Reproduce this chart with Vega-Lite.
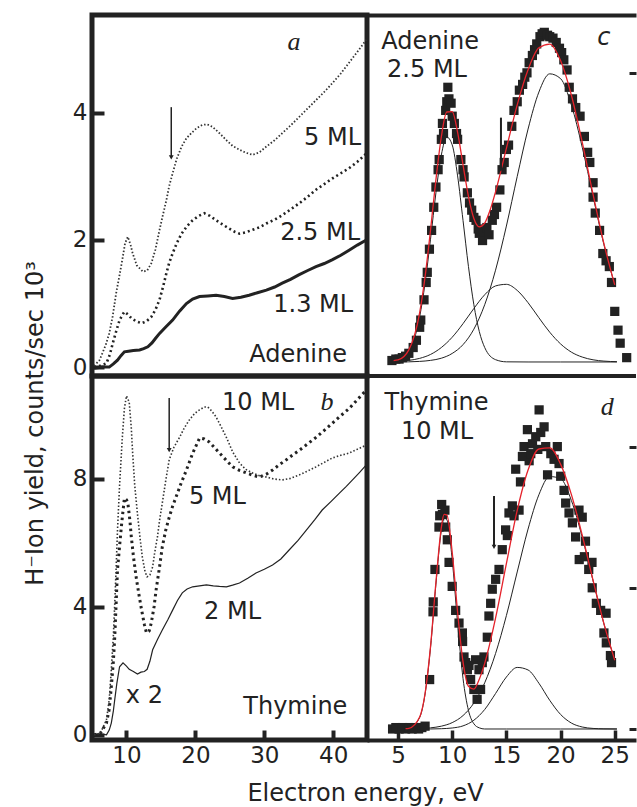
{
"$schema": "https://vega.github.io/schema/vega-lite/v6.json",
"padding": {"left": 20, "top": 12, "right": 0, "bottom": 0},
"autosize": {"type": "pad"},
"background": "white",
"config": {
  "font": "DejaVu Sans",
  "view": {"stroke": null},
  "axis": {"grid": false, "labelFont": "DejaVu Sans", "labelFontSize": 23, "labelColor": "#222", "tickColor": "#222", "domainColor": "#222", "titleFont": "DejaVu Sans", "titleFontSize": 24, "titleFontWeight": "normal", "titleColor": "#222"}
},
"datasets": {
"pa": [
{"s":"5 ML","x":5.3,"y":0.02},{"s":"5 ML","x":6.1,"y":0.11},{"s":"5 ML","x":7.0,"y":0.35},{"s":"5 ML","x":7.5,"y":0.53},{"s":"5 ML","x":8.0,"y":0.8},{"s":"5 ML","x":8.5,"y":1.16},{"s":"5 ML","x":9.0,"y":1.45},{"s":"5 ML","x":9.4,"y":1.69},{"s":"5 ML","x":9.8,"y":1.95},{"s":"5 ML","x":10.2,"y":2.05},{"s":"5 ML","x":10.6,"y":1.92},{"s":"5 ML","x":10.9,"y":1.79},{"s":"5 ML","x":11.5,"y":1.6},{"s":"5 ML","x":12.4,"y":1.5},{"s":"5 ML","x":13.0,"y":1.52},{"s":"5 ML","x":13.6,"y":1.63},{"s":"5 ML","x":14.2,"y":1.85},{"s":"5 ML","x":14.8,"y":2.16},{"s":"5 ML","x":15.3,"y":2.4},{"s":"5 ML","x":15.8,"y":2.63},{"s":"5 ML","x":16.2,"y":2.85},{"s":"5 ML","x":16.7,"y":3.05},{"s":"5 ML","x":17.3,"y":3.28},{"s":"5 ML","x":18.0,"y":3.47},{"s":"5 ML","x":18.7,"y":3.6},{"s":"5 ML","x":19.4,"y":3.68},{"s":"5 ML","x":20.2,"y":3.76},{"s":"5 ML","x":21.0,"y":3.81},{"s":"5 ML","x":21.7,"y":3.82},{"s":"5 ML","x":22.5,"y":3.78},{"s":"5 ML","x":23.5,"y":3.68},{"s":"5 ML","x":24.5,"y":3.57},{"s":"5 ML","x":25.4,"y":3.48},{"s":"5 ML","x":26.4,"y":3.42},{"s":"5 ML","x":27.4,"y":3.37},{"s":"5 ML","x":28.3,"y":3.34},{"s":"5 ML","x":29.3,"y":3.38},{"s":"5 ML","x":30.3,"y":3.47},{"s":"5 ML","x":31.5,"y":3.57},{"s":"5 ML","x":32.6,"y":3.68},{"s":"5 ML","x":33.8,"y":3.8},{"s":"5 ML","x":35.1,"y":3.94},{"s":"5 ML","x":36.3,"y":4.07},{"s":"5 ML","x":37.5,"y":4.2},{"s":"5 ML","x":38.7,"y":4.33},{"s":"5 ML","x":39.9,"y":4.47},{"s":"5 ML","x":41.1,"y":4.62},{"s":"5 ML","x":42.3,"y":4.79},{"s":"5 ML","x":43.5,"y":4.96},{"s":"5 ML","x":44.8,"y":5.15},
{"s":"2.5 ML","x":5.3,"y":0.0},{"s":"2.5 ML","x":6.2,"y":0.02},{"s":"2.5 ML","x":7.1,"y":0.06},{"s":"2.5 ML","x":7.6,"y":0.2},{"s":"2.5 ML","x":8.0,"y":0.37},{"s":"2.5 ML","x":8.5,"y":0.56},{"s":"2.5 ML","x":9.0,"y":0.74},{"s":"2.5 ML","x":9.4,"y":0.82},{"s":"2.5 ML","x":9.7,"y":0.87},{"s":"2.5 ML","x":10.2,"y":0.83},{"s":"2.5 ML","x":10.7,"y":0.77},{"s":"2.5 ML","x":11.4,"y":0.72},{"s":"2.5 ML","x":12.2,"y":0.69},{"s":"2.5 ML","x":12.9,"y":0.72},{"s":"2.5 ML","x":13.6,"y":0.79},{"s":"2.5 ML","x":14.2,"y":0.9},{"s":"2.5 ML","x":14.8,"y":1.06},{"s":"2.5 ML","x":15.3,"y":1.26},{"s":"2.5 ML","x":15.8,"y":1.48},{"s":"2.5 ML","x":16.2,"y":1.64},{"s":"2.5 ML","x":16.7,"y":1.79},{"s":"2.5 ML","x":17.3,"y":1.95},{"s":"2.5 ML","x":18.0,"y":2.1},{"s":"2.5 ML","x":18.8,"y":2.22},{"s":"2.5 ML","x":19.6,"y":2.31},{"s":"2.5 ML","x":20.5,"y":2.38},{"s":"2.5 ML","x":21.3,"y":2.42},{"s":"2.5 ML","x":22.1,"y":2.38},{"s":"2.5 ML","x":23.0,"y":2.31},{"s":"2.5 ML","x":24.0,"y":2.24},{"s":"2.5 ML","x":24.9,"y":2.18},{"s":"2.5 ML","x":25.7,"y":2.13},{"s":"2.5 ML","x":26.4,"y":2.1},{"s":"2.5 ML","x":27.3,"y":2.12},{"s":"2.5 ML","x":28.3,"y":2.16},{"s":"2.5 ML","x":29.3,"y":2.2},{"s":"2.5 ML","x":30.3,"y":2.26},{"s":"2.5 ML","x":31.5,"y":2.32},{"s":"2.5 ML","x":32.6,"y":2.39},{"s":"2.5 ML","x":33.8,"y":2.48},{"s":"2.5 ML","x":35.1,"y":2.58},{"s":"2.5 ML","x":36.3,"y":2.68},{"s":"2.5 ML","x":37.5,"y":2.79},{"s":"2.5 ML","x":38.7,"y":2.88},{"s":"2.5 ML","x":39.9,"y":2.97},{"s":"2.5 ML","x":41.1,"y":3.05},{"s":"2.5 ML","x":42.3,"y":3.13},{"s":"2.5 ML","x":43.5,"y":3.23},{"s":"2.5 ML","x":44.8,"y":3.36},
{"s":"1.3 ML","x":5.3,"y":-0.02},{"s":"1.3 ML","x":6.5,"y":0.0},{"s":"1.3 ML","x":7.5,"y":0.0},{"s":"1.3 ML","x":8.1,"y":0.05},{"s":"1.3 ML","x":8.7,"y":0.11},{"s":"1.3 ML","x":9.2,"y":0.18},{"s":"1.3 ML","x":9.7,"y":0.24},{"s":"1.3 ML","x":10.3,"y":0.25},{"s":"1.3 ML","x":11.0,"y":0.26},{"s":"1.3 ML","x":11.9,"y":0.27},{"s":"1.3 ML","x":12.5,"y":0.29},{"s":"1.3 ML","x":13.1,"y":0.32},{"s":"1.3 ML","x":13.7,"y":0.38},{"s":"1.3 ML","x":14.2,"y":0.45},{"s":"1.3 ML","x":14.8,"y":0.53},{"s":"1.3 ML","x":15.7,"y":0.63},{"s":"1.3 ML","x":16.7,"y":0.74},{"s":"1.3 ML","x":17.7,"y":0.88},{"s":"1.3 ML","x":18.7,"y":1.0},{"s":"1.3 ML","x":19.6,"y":1.07},{"s":"1.3 ML","x":20.6,"y":1.11},{"s":"1.3 ML","x":21.8,"y":1.12},{"s":"1.3 ML","x":23.0,"y":1.13},{"s":"1.3 ML","x":24.2,"y":1.11},{"s":"1.3 ML","x":25.4,"y":1.08},{"s":"1.3 ML","x":26.6,"y":1.1},{"s":"1.3 ML","x":27.8,"y":1.13},{"s":"1.3 ML","x":29.0,"y":1.17},{"s":"1.3 ML","x":30.3,"y":1.21},{"s":"1.3 ML","x":31.5,"y":1.26},{"s":"1.3 ML","x":32.6,"y":1.32},{"s":"1.3 ML","x":33.8,"y":1.38},{"s":"1.3 ML","x":35.0,"y":1.45},{"s":"1.3 ML","x":36.3,"y":1.52},{"s":"1.3 ML","x":37.5,"y":1.58},{"s":"1.3 ML","x":38.7,"y":1.63},{"s":"1.3 ML","x":39.9,"y":1.69},{"s":"1.3 ML","x":41.1,"y":1.76},{"s":"1.3 ML","x":42.3,"y":1.84},{"s":"1.3 ML","x":43.5,"y":1.92},{"s":"1.3 ML","x":44.8,"y":2.0}
],
"pb": [
{"s":"10 ML","x":5.3,"y":0.0},{"s":"10 ML","x":6.2,"y":0.05},{"s":"10 ML","x":7.1,"y":0.47},{"s":"10 ML","x":7.5,"y":1.1},{"s":"10 ML","x":7.8,"y":2.03},{"s":"10 ML","x":8.1,"y":3.1},{"s":"10 ML","x":8.3,"y":4.1},{"s":"10 ML","x":8.5,"y":5.2},{"s":"10 ML","x":8.7,"y":6.4},{"s":"10 ML","x":9.0,"y":7.8},{"s":"10 ML","x":9.4,"y":9.3},{"s":"10 ML","x":9.7,"y":10.2},{"s":"10 ML","x":10.0,"y":10.6},{"s":"10 ML","x":10.4,"y":10.4},{"s":"10 ML","x":10.7,"y":9.6},{"s":"10 ML","x":10.9,"y":8.8},{"s":"10 ML","x":11.2,"y":7.8},{"s":"10 ML","x":11.6,"y":6.9},{"s":"10 ML","x":12.0,"y":6.1},{"s":"10 ML","x":12.3,"y":5.56},{"s":"10 ML","x":12.7,"y":5.1},{"s":"10 ML","x":13.0,"y":4.94},{"s":"10 ML","x":13.4,"y":5.0},{"s":"10 ML","x":13.8,"y":5.25},{"s":"10 ML","x":14.1,"y":5.7},{"s":"10 ML","x":14.5,"y":6.2},{"s":"10 ML","x":14.8,"y":6.7},{"s":"10 ML","x":15.2,"y":7.25},{"s":"10 ML","x":15.7,"y":7.95},{"s":"10 ML","x":16.2,"y":8.6},{"s":"10 ML","x":16.9,"y":9.0},{"s":"10 ML","x":17.7,"y":9.3},{"s":"10 ML","x":18.4,"y":9.6},{"s":"10 ML","x":19.1,"y":9.84},{"s":"10 ML","x":19.9,"y":10.05},{"s":"10 ML","x":20.6,"y":10.16},{"s":"10 ML","x":21.3,"y":10.25},{"s":"10 ML","x":21.8,"y":10.25},{"s":"10 ML","x":22.4,"y":10.12},{"s":"10 ML","x":23.0,"y":9.94},{"s":"10 ML","x":23.7,"y":9.65},{"s":"10 ML","x":24.5,"y":9.3},{"s":"10 ML","x":25.4,"y":8.85},{"s":"10 ML","x":26.4,"y":8.5},{"s":"10 ML","x":27.3,"y":8.3},{"s":"10 ML","x":28.3,"y":8.19},{"s":"10 ML","x":29.3,"y":8.1},{"s":"10 ML","x":30.3,"y":8.06},{"s":"10 ML","x":31.4,"y":8.0},{"s":"10 ML","x":32.6,"y":7.97},{"s":"10 ML","x":33.8,"y":8.02},{"s":"10 ML","x":35.1,"y":8.13},{"s":"10 ML","x":36.3,"y":8.25},{"s":"10 ML","x":37.5,"y":8.38},{"s":"10 ML","x":38.7,"y":8.52},{"s":"10 ML","x":39.9,"y":8.66},{"s":"10 ML","x":41.1,"y":8.74},{"s":"10 ML","x":42.3,"y":8.81},{"s":"10 ML","x":43.5,"y":8.93},{"s":"10 ML","x":44.8,"y":9.06},
{"s":"5 ML","x":5.3,"y":0.0},{"s":"5 ML","x":6.2,"y":0.05},{"s":"5 ML","x":7.1,"y":0.37},{"s":"5 ML","x":7.5,"y":0.8},{"s":"5 ML","x":7.8,"y":1.5},{"s":"5 ML","x":8.1,"y":2.3},{"s":"5 ML","x":8.3,"y":3.06},{"s":"5 ML","x":8.5,"y":4.1},{"s":"5 ML","x":8.7,"y":5.16},{"s":"5 ML","x":9.0,"y":5.9},{"s":"5 ML","x":9.3,"y":6.6},{"s":"5 ML","x":9.7,"y":7.4},{"s":"5 ML","x":10.0,"y":7.35},{"s":"5 ML","x":10.2,"y":7.25},{"s":"5 ML","x":10.5,"y":6.7},{"s":"5 ML","x":10.7,"y":6.2},{"s":"5 ML","x":11.0,"y":5.6},{"s":"5 ML","x":11.4,"y":4.94},{"s":"5 ML","x":11.8,"y":4.4},{"s":"5 ML","x":12.2,"y":3.9},{"s":"5 ML","x":12.6,"y":3.45},{"s":"5 ML","x":12.9,"y":3.19},{"s":"5 ML","x":13.3,"y":3.25},{"s":"5 ML","x":13.6,"y":3.5},{"s":"5 ML","x":14.0,"y":4.0},{"s":"5 ML","x":14.3,"y":4.53},{"s":"5 ML","x":14.8,"y":5.25},{"s":"5 ML","x":15.2,"y":5.88},{"s":"5 ML","x":15.7,"y":6.4},{"s":"5 ML","x":16.2,"y":6.8},{"s":"5 ML","x":16.7,"y":7.15},{"s":"5 ML","x":17.2,"y":7.44},{"s":"5 ML","x":17.9,"y":7.85},{"s":"5 ML","x":18.7,"y":8.28},{"s":"5 ML","x":19.6,"y":8.8},{"s":"5 ML","x":20.6,"y":9.28},{"s":"5 ML","x":21.3,"y":9.25},{"s":"5 ML","x":22.0,"y":9.16},{"s":"5 ML","x":22.7,"y":9.0},{"s":"5 ML","x":23.5,"y":8.81},{"s":"5 ML","x":24.5,"y":8.58},{"s":"5 ML","x":25.4,"y":8.38},{"s":"5 ML","x":26.4,"y":8.27},{"s":"5 ML","x":27.4,"y":8.19},{"s":"5 ML","x":28.3,"y":8.12},{"s":"5 ML","x":29.3,"y":8.06},{"s":"5 ML","x":30.3,"y":8.15},{"s":"5 ML","x":31.2,"y":8.28},{"s":"5 ML","x":32.2,"y":8.45},{"s":"5 ML","x":33.2,"y":8.6},{"s":"5 ML","x":34.1,"y":8.75},{"s":"5 ML","x":35.1,"y":8.9},{"s":"5 ML","x":36.3,"y":9.1},{"s":"5 ML","x":37.5,"y":9.3},{"s":"5 ML","x":38.7,"y":9.52},{"s":"5 ML","x":39.9,"y":9.75},{"s":"5 ML","x":41.1,"y":9.98},{"s":"5 ML","x":42.3,"y":10.2},{"s":"5 ML","x":43.5,"y":10.48},{"s":"5 ML","x":44.8,"y":10.78},
{"s":"2 ML","x":5.3,"y":0.0},{"s":"2 ML","x":6.2,"y":0.03},{"s":"2 ML","x":7.1,"y":0.0},{"s":"2 ML","x":7.5,"y":0.15},{"s":"2 ML","x":7.8,"y":0.37},{"s":"2 ML","x":8.1,"y":0.75},{"s":"2 ML","x":8.3,"y":1.1},{"s":"2 ML","x":8.6,"y":1.6},{"s":"2 ML","x":9.0,"y":2.13},{"s":"2 ML","x":9.5,"y":2.25},{"s":"2 ML","x":10.0,"y":2.15},{"s":"2 ML","x":10.4,"y":2.05},{"s":"2 ML","x":11.0,"y":1.98},{"s":"2 ML","x":11.6,"y":1.9},{"s":"2 ML","x":12.1,"y":1.96},{"s":"2 ML","x":12.6,"y":1.98},{"s":"2 ML","x":13.0,"y":2.05},{"s":"2 ML","x":13.4,"y":2.3},{"s":"2 ML","x":13.8,"y":2.66},{"s":"2 ML","x":14.5,"y":2.98},{"s":"2 ML","x":15.2,"y":3.28},{"s":"2 ML","x":16.0,"y":3.6},{"s":"2 ML","x":16.7,"y":3.9},{"s":"2 ML","x":17.4,"y":4.2},{"s":"2 ML","x":18.1,"y":4.44},{"s":"2 ML","x":18.8,"y":4.56},{"s":"2 ML","x":19.6,"y":4.63},{"s":"2 ML","x":20.6,"y":4.66},{"s":"2 ML","x":21.6,"y":4.69},{"s":"2 ML","x":22.6,"y":4.66},{"s":"2 ML","x":23.5,"y":4.64},{"s":"2 ML","x":24.5,"y":4.63},{"s":"2 ML","x":25.4,"y":4.68},{"s":"2 ML","x":26.4,"y":4.75},{"s":"2 ML","x":27.6,"y":4.9},{"s":"2 ML","x":28.8,"y":5.06},{"s":"2 ML","x":30.0,"y":5.18},{"s":"2 ML","x":31.2,"y":5.31},{"s":"2 ML","x":32.4,"y":5.5},{"s":"2 ML","x":33.6,"y":5.78},{"s":"2 ML","x":34.9,"y":6.08},{"s":"2 ML","x":36.1,"y":6.4},{"s":"2 ML","x":37.3,"y":6.72},{"s":"2 ML","x":38.4,"y":7.03},{"s":"2 ML","x":39.7,"y":7.3},{"s":"2 ML","x":40.9,"y":7.56},{"s":"2 ML","x":41.9,"y":7.77},{"s":"2 ML","x":42.8,"y":7.97},{"s":"2 ML","x":43.8,"y":8.2},{"s":"2 ML","x":44.8,"y":8.44}
],
"cpts": [
{"x":4.44,"y":0.01},{"x":4.8,"y":0.02},{"x":5.1,"y":0.02},{"x":5.4,"y":0.03},{"x":5.7,"y":0.04},{"x":6.0,"y":0.06},{"x":6.4,"y":0.1},{"x":6.7,"y":0.15},{"x":7.0,"y":0.24},{"x":7.1,"y":0.29},{"x":7.4,"y":0.43},{"x":7.6,"y":0.55},{"x":7.7,"y":0.62},{"x":7.9,"y":0.78},{"x":8.1,"y":0.91},{"x":8.3,"y":1.07},{"x":8.5,"y":1.21},{"x":8.7,"y":1.33},{"x":8.8,"y":1.4},{"x":9.0,"y":1.54},{"x":9.1,"y":1.65},{"x":9.2,"y":1.58},{"x":9.4,"y":1.74},{"x":9.5,"y":1.8},{"x":9.6,"y":1.9},{"x":9.7,"y":1.82},{"x":9.9,"y":1.79},{"x":10.0,"y":1.7},{"x":10.2,"y":1.65},{"x":10.4,"y":1.58},{"x":10.5,"y":1.54},{"x":10.8,"y":1.4},{"x":11.0,"y":1.33},{"x":11.1,"y":1.28},{"x":11.4,"y":1.17},{"x":11.6,"y":1.1},{"x":11.8,"y":1.05},{"x":12.0,"y":1.0},{"x":12.2,"y":0.98},{"x":12.4,"y":0.92},{"x":12.5,"y":0.89},{"x":12.8,"y":0.84},{"x":12.9,"y":0.9},{"x":13.2,"y":0.93},{"x":13.4,"y":0.88},{"x":13.7,"y":0.98},{"x":13.9,"y":1.02},{"x":14.1,"y":1.07},{"x":14.4,"y":1.19},{"x":14.6,"y":1.33},{"x":14.8,"y":1.38},{"x":15.0,"y":1.47},{"x":15.2,"y":1.5},{"x":15.5,"y":1.63},{"x":15.7,"y":1.74},{"x":16.0,"y":1.8},{"x":16.2,"y":1.88},{"x":16.5,"y":1.92},{"x":16.7,"y":1.97},{"x":16.9,"y":2.0},{"x":17.1,"y":2.07},{"x":17.4,"y":2.12},{"x":17.6,"y":2.16},{"x":17.8,"y":2.2},{"x":18.1,"y":2.25},{"x":18.3,"y":2.27},{"x":18.5,"y":2.28},{"x":18.8,"y":2.26},{"x":19.0,"y":2.25},{"x":19.3,"y":2.24},{"x":19.6,"y":2.21},{"x":19.9,"y":2.17},{"x":20.1,"y":2.14},{"x":20.3,"y":2.09},{"x":20.6,"y":2.02},{"x":20.8,"y":1.9},{"x":21.1,"y":1.82},{"x":21.4,"y":1.76},{"x":21.8,"y":1.7},{"x":22.2,"y":1.56},{"x":22.5,"y":1.45},{"x":22.7,"y":1.38},{"x":23.0,"y":1.24},{"x":23.0,"y":1.14},{"x":23.2,"y":1.03},{"x":23.6,"y":0.91},{"x":23.9,"y":0.75},{"x":24.2,"y":0.7},{"x":24.5,"y":0.66},{"x":24.7,"y":0.55},{"x":25.0,"y":0.35},{"x":25.3,"y":0.22},{"x":25.5,"y":0.13},{"x":26.1,"y":0.03}
],
"cfit": [
{"s":"fit","x":4.6,"y":0.01},{"s":"fit","x":5,"y":0.014},{"s":"fit","x":6,"y":0.084},{"s":"fit","x":7,"y":0.341},{"s":"fit","x":7.5,"y":0.59},{"s":"fit","x":8,"y":0.912},{"s":"fit","x":8.5,"y":1.261},{"s":"fit","x":9,"y":1.558},{"s":"fit","x":9.5,"y":1.729},{"s":"fit","x":10,"y":1.732},{"s":"fit","x":10.5,"y":1.588},{"s":"fit","x":11,"y":1.364},{"s":"fit","x":11.5,"y":1.146},{"s":"fit","x":12,"y":0.993},{"s":"fit","x":12.5,"y":0.935},{"s":"fit","x":13,"y":0.961},{"s":"fit","x":13.5,"y":1.051},{"s":"fit","x":14,"y":1.177},{"s":"fit","x":15,"y":1.478},{"s":"fit","x":16,"y":1.778},{"s":"fit","x":17,"y":2.021},{"s":"fit","x":18,"y":2.173},{"s":"fit","x":19,"y":2.199},{"s":"fit","x":20,"y":2.085},{"s":"fit","x":21,"y":1.845},{"s":"fit","x":22,"y":1.519},{"s":"fit","x":23,"y":1.159},{"s":"fit","x":24,"y":0.818},{"s":"fit","x":25,"y":0.533},
{"s":"g1","x":5,"y":0.01},{"s":"g1","x":6,"y":0.072},{"s":"g1","x":7,"y":0.312},{"s":"g1","x":7.5,"y":0.546},{"s":"g1","x":8,"y":0.849},{"s":"g1","x":8.5,"y":1.17},{"s":"g1","x":9,"y":1.432},{"s":"g1","x":9.5,"y":1.556},{"s":"g1","x":10,"y":1.502},{"s":"g1","x":10.5,"y":1.287},{"s":"g1","x":11,"y":0.979},{"s":"g1","x":11.5,"y":0.661},{"s":"g1","x":12,"y":0.396},{"s":"g1","x":12.5,"y":0.211},{"s":"g1","x":13,"y":0.1},{"s":"g1","x":14,"y":0.016},{"s":"g1","x":15,"y":0.001},{"s":"g1","x":17,"y":0},{"s":"g1","x":20,"y":0},{"s":"g1","x":25.2,"y":0},
{"s":"g2","x":5,"y":0.004},{"s":"g2","x":6,"y":0.011},{"s":"g2","x":7,"y":0.025},{"s":"g2","x":8,"y":0.052},{"s":"g2","x":9,"y":0.1},{"s":"g2","x":10,"y":0.171},{"s":"g2","x":11,"y":0.265},{"s":"g2","x":12,"y":0.37},{"s":"g2","x":13,"y":0.465},{"s":"g2","x":14,"y":0.526},{"s":"g2","x":15,"y":0.537},{"s":"g2","x":16,"y":0.495},{"s":"g2","x":17,"y":0.41},{"s":"g2","x":18,"y":0.306},{"s":"g2","x":19,"y":0.206},{"s":"g2","x":20,"y":0.125},{"s":"g2","x":21,"y":0.068},{"s":"g2","x":22,"y":0.034},{"s":"g2","x":23,"y":0.015},{"s":"g2","x":24,"y":0.006},{"s":"g2","x":25.2,"y":0.002},
{"s":"g3","x":5,"y":0},{"s":"g3","x":6,"y":0.001},{"s":"g3","x":7,"y":0.004},{"s":"g3","x":8,"y":0.011},{"s":"g3","x":9,"y":0.026},{"s":"g3","x":10,"y":0.059},{"s":"g3","x":11,"y":0.12},{"s":"g3","x":12,"y":0.227},{"s":"g3","x":13,"y":0.396},{"s":"g3","x":14,"y":0.635},{"s":"g3","x":15,"y":0.94},{"s":"g3","x":16,"y":1.283},{"s":"g3","x":17,"y":1.611},{"s":"g3","x":18,"y":1.867},{"s":"g3","x":19,"y":1.993},{"s":"g3","x":20,"y":1.96},{"s":"g3","x":21,"y":1.777},{"s":"g3","x":22,"y":1.485},{"s":"g3","x":23,"y":1.144},{"s":"g3","x":24,"y":0.812},{"s":"g3","x":25,"y":0.531}
],
"dpts": [
{"x":4.5,"y":0.0},{"x":4.8,"y":0.01},{"x":5.1,"y":0.0},{"x":5.4,"y":0.01},{"x":5.7,"y":0.0},{"x":6.0,"y":0.01},{"x":6.3,"y":0.0},{"x":6.6,"y":0.01},{"x":6.9,"y":0.0},{"x":7.2,"y":0.01},{"x":7.5,"y":0.02},
{"x":7.92,"y":0.35},{"x":8.23,"y":0.83},{"x":8.25,"y":0.9},{"x":8.41,"y":1.13},{"x":8.78,"y":1.43},{"x":8.85,"y":1.51},{"x":9.03,"y":1.59},{"x":9.1,"y":1.52},{"x":9.33,"y":1.55},{"x":9.4,"y":1.43},{"x":9.55,"y":1.34},{"x":9.71,"y":1.18},{"x":10.0,"y":1.01},{"x":10.32,"y":0.84},{"x":10.63,"y":0.75},{"x":10.94,"y":0.68},{"x":10.96,"y":0.62},{"x":11.09,"y":0.51},{"x":11.25,"y":0.47},{"x":11.4,"y":0.42},{"x":11.55,"y":0.45},{"x":11.7,"y":0.35},{"x":12.0,"y":0.28},{"x":12.16,"y":0.49},{"x":12.3,"y":0.21},{"x":12.47,"y":0.42},{"x":12.62,"y":0.28},{"x":12.78,"y":0.47},{"x":12.93,"y":0.51},{"x":13.24,"y":0.65},{"x":13.39,"y":0.8},{"x":13.55,"y":0.89},{"x":13.7,"y":0.99},{"x":14.01,"y":1.06},{"x":14.32,"y":1.13},{"x":14.62,"y":1.27},{"x":14.93,"y":1.41},{"x":15.09,"y":1.37},{"x":15.24,"y":1.53},{"x":15.55,"y":1.58},{"x":15.71,"y":1.51},{"x":15.86,"y":1.84},{"x":16.17,"y":1.55},{"x":16.3,"y":1.75},{"x":16.48,"y":1.93},{"x":16.63,"y":2.0},{"x":16.94,"y":2.12},{"x":17.1,"y":1.9},{"x":17.25,"y":1.95},{"x":17.41,"y":2.02},{"x":17.71,"y":2.07},{"x":17.9,"y":1.98},{"x":18.02,"y":2.26},{"x":18.17,"y":2.1},{"x":18.48,"y":2.14},{"x":18.63,"y":2.0},{"x":18.8,"y":1.8},{"x":19.1,"y":1.95},{"x":19.4,"y":1.91},{"x":19.7,"y":2.0},{"x":19.86,"y":1.88},{"x":20.01,"y":1.79},{"x":20.32,"y":1.69},{"x":20.47,"y":1.6},{"x":20.78,"y":1.53},{"x":21.09,"y":1.46},{"x":21.39,"y":1.36},{"x":21.7,"y":1.55},{"x":21.72,"y":1.2},{"x":22.0,"y":1.5},{"x":22.2,"y":1.22},{"x":22.3,"y":1.33},{"x":22.6,"y":1.13},{"x":22.9,"y":1.18},{"x":22.92,"y":1.0},{"x":23.3,"y":0.89},{"x":23.7,"y":0.84},{"x":24.0,"y":0.68},{"x":24.2,"y":0.82},{"x":24.22,"y":0.61},{"x":24.6,"y":0.52},{"x":24.7,"y":0.47}
],
"dfit": [
{"s":"fit","x":5.7,"y":0.003},{"s":"fit","x":6,"y":0.005},{"s":"fit","x":7,"y":0.085},{"s":"fit","x":7.5,"y":0.253},{"s":"fit","x":8,"y":0.583},{"s":"fit","x":8.5,"y":1.039},{"s":"fit","x":9,"y":1.428},{"s":"fit","x":9.25,"y":1.52},{"s":"fit","x":9.5,"y":1.516},{"s":"fit","x":10,"y":1.253},{"s":"fit","x":10.5,"y":0.827},{"s":"fit","x":11,"y":0.475},{"s":"fit","x":11.5,"y":0.303},{"s":"fit","x":12,"y":0.283},{"s":"fit","x":12.5,"y":0.353},{"s":"fit","x":13,"y":0.465},{"s":"fit","x":14,"y":0.785},{"s":"fit","x":15,"y":1.171},{"s":"fit","x":16,"y":1.548},{"s":"fit","x":17,"y":1.834},{"s":"fit","x":18,"y":1.983},{"s":"fit","x":19,"y":1.991},{"s":"fit","x":20,"y":1.876},{"s":"fit","x":21,"y":1.66},{"s":"fit","x":22,"y":1.372},{"s":"fit","x":23,"y":1.053},{"s":"fit","x":24,"y":0.746},{"s":"fit","x":25,"y":0.487},
{"s":"g1","x":5,"y":0},{"s":"g1","x":6,"y":0.004},{"s":"g1","x":7,"y":0.082},{"s":"g1","x":7.5,"y":0.248},{"s":"g1","x":8,"y":0.575},{"s":"g1","x":8.5,"y":1.026},{"s":"g1","x":9,"y":1.406},{"s":"g1","x":9.25,"y":1.492},{"s":"g1","x":9.5,"y":1.482},{"s":"g1","x":10,"y":1.201},{"s":"g1","x":10.5,"y":0.748},{"s":"g1","x":11,"y":0.358},{"s":"g1","x":11.5,"y":0.132},{"s":"g1","x":12,"y":0.037},{"s":"g1","x":12.5,"y":0.008},{"s":"g1","x":13,"y":0},{"s":"g1","x":15,"y":0},{"s":"g1","x":20,"y":0},{"s":"g1","x":25.2,"y":0},
{"s":"g2","x":5,"y":0},{"s":"g2","x":8,"y":0},{"s":"g2","x":9,"y":0.002},{"s":"g2","x":10,"y":0.007},{"s":"g2","x":11,"y":0.022},{"s":"g2","x":12,"y":0.062},{"s":"g2","x":13,"y":0.138},{"s":"g2","x":14,"y":0.251},{"s":"g2","x":15,"y":0.368},{"s":"g2","x":16,"y":0.436},{"s":"g2","x":17,"y":0.418},{"s":"g2","x":18,"y":0.324},{"s":"g2","x":19,"y":0.203},{"s":"g2","x":20,"y":0.103},{"s":"g2","x":21,"y":0.042},{"s":"g2","x":22,"y":0.014},{"s":"g2","x":23,"y":0.004},{"s":"g2","x":24,"y":0.001},{"s":"g2","x":25.2,"y":0},
{"s":"g3","x":5,"y":0},{"s":"g3","x":6,"y":0.001},{"s":"g3","x":7,"y":0.003},{"s":"g3","x":8,"y":0.008},{"s":"g3","x":9,"y":0.02},{"s":"g3","x":10,"y":0.045},{"s":"g3","x":11,"y":0.095},{"s":"g3","x":12,"y":0.184},{"s":"g3","x":13,"y":0.327},{"s":"g3","x":14,"y":0.534},{"s":"g3","x":15,"y":0.803},{"s":"g3","x":16,"y":1.112},{"s":"g3","x":17,"y":1.416},{"s":"g3","x":18,"y":1.659},{"s":"g3","x":19,"y":1.788},{"s":"g3","x":20,"y":1.773},{"s":"g3","x":21,"y":1.618},{"s":"g3","x":22,"y":1.358},{"s":"g3","x":23,"y":1.049},{"s":"g3","x":24,"y":0.745},{"s":"g3","x":25,"y":0.487}
],
"arr": [
{"p":"a","x":16.5,"y":4.09,"y2":3.3},
{"p":"b","x":16.2,"y":10.53,"y2":8.9},
{"p":"c","x":14.5,"y":1.69,"y2":1.33},
{"p":"d","x":13.86,"y":1.65,"y2":1.29}
],
"lab": [
{"p":"a","t":"5 ML","x":39.9,"y":3.61},{"p":"a","t":"2.5 ML","x":38.1,"y":2.11},{"p":"a","t":"1.3 ML","x":37.1,"y":0.98},{"p":"a","t":"Adenine","x":34.9,"y":0.19},
{"p":"b","t":"10 ML","x":29.1,"y":10.37},{"p":"b","t":"5 ML","x":23.2,"y":7.44},{"p":"b","t":"2 ML","x":25.4,"y":3.84},{"p":"b","t":"Thymine","x":34.5,"y":0.875},{"p":"b","t":"x 2","x":12.6,"y":1.22},
{"p":"c","t":"Adenine","x":7.96,"y":2.21},{"p":"c","t":"2.5 ML","x":7.68,"y":2.02},
{"p":"d","t":"Thymine","x":8.55,"y":2.31},{"p":"d","t":"10 ML","x":8.6,"y":2.1}
],
"ital": [
{"p":"a","t":"a","x":34.3,"y":5.12},
{"p":"b","t":"b","x":39.1,"y":10.4},
{"p":"c","t":"c","x":24.0,"y":2.24},
{"p":"d","t":"d","x":24.3,"y":2.28}
]
},
"columns": 2,
"spacing": 0,
"bounds": "flush",
"concat": [
{
"width": 275, "height": 361,
"view": {"stroke": "#222", "strokeWidth": 5},
"layer": [
{"data": {"name": "pa"}, "transform": [{"filter": "datum.s === '1.3 ML'"}],
 "mark": {"type": "line", "color": "#222", "strokeWidth": 3},
 "encoding": {
  "x": {"field": "x", "type": "quantitative", "scale": {"domain": [5, 44.9], "nice": false, "zero": false}, "axis": null},
  "y": {"field": "y", "type": "quantitative", "scale": {"domain": [-0.14, 5.54], "nice": false, "zero": false},
        "axis": {"values": [0, 2, 4], "format": "d", "domain": false, "tickSize": -12, "tickWidth": 4, "labelPadding": 17, "title": "H⁻Ion yield, counts/sec 10³", "titleX": -50, "titleY": 408, "titleAngle": 270, "titleBaseline": "alphabetic", "titleAlign": "center"}}}},
{"data": {"name": "pa"}, "transform": [{"filter": "datum.s === '2.5 ML'"}],
 "mark": {"type": "line", "color": "#222", "strokeWidth": 2.6, "strokeDash": [2, 3]},
 "encoding": {"x": {"field": "x", "type": "quantitative"}, "y": {"field": "y", "type": "quantitative"}}},
{"data": {"name": "pa"}, "transform": [{"filter": "datum.s === '5 ML'"}],
 "mark": {"type": "line", "color": "#333", "strokeWidth": 1.8, "strokeDash": [1.5, 2]},
 "encoding": {"x": {"field": "x", "type": "quantitative"}, "y": {"field": "y", "type": "quantitative"}}},
{"data": {"name": "arr"}, "transform": [{"filter": "datum.p === 'a'"}],
 "mark": {"type": "rule", "color": "#222", "strokeWidth": 1.5},
 "encoding": {"x": {"field": "x", "type": "quantitative"}, "y": {"field": "y", "type": "quantitative"}, "y2": {"field": "y2"}}},
{"data": {"name": "arr"}, "transform": [{"filter": "datum.p === 'a'"}],
 "mark": {"type": "point", "shape": "triangle-down", "filled": true, "size": 24, "color": "#222", "opacity": 1},
 "encoding": {"x": {"field": "x", "type": "quantitative"}, "y": {"field": "y2", "type": "quantitative"}}},
{"data": {"name": "lab"}, "transform": [{"filter": "datum.p === 'a'"}],
 "mark": {"type": "text", "font": "DejaVu Sans", "fontSize": 24, "color": "#222", "align": "center", "baseline": "middle"},
 "encoding": {"x": {"field": "x", "type": "quantitative"}, "y": {"field": "y", "type": "quantitative"}, "text": {"field": "t"}}},
{"data": {"name": "ital"}, "transform": [{"filter": "datum.p === 'a'"}],
 "mark": {"type": "text", "font": "Liberation Serif", "fontStyle": "italic", "fontSize": 26, "color": "#222", "align": "center", "baseline": "middle"},
 "encoding": {"x": {"field": "x", "type": "quantitative"}, "y": {"field": "y", "type": "quantitative"}, "text": {"field": "t"}}}
]
},
{
"width": 269, "height": 361,
"layer": [
{"data": {"name": "cfit"}, "transform": [{"filter": "datum.s !== 'fit'"}],
 "mark": {"type": "line", "color": "#222", "strokeWidth": 1, "interpolate": "monotone"},
 "encoding": {
  "x": {"field": "x", "type": "quantitative", "scale": {"domain": [2.14, 26.96], "nice": false, "zero": false},
        "axis": {"orient": "top", "domain": true, "domainWidth": 4, "ticks": false, "labels": false, "title": null}},
  "y": {"field": "y", "type": "quantitative", "scale": {"domain": [-0.097, 2.4], "nice": false, "zero": false},
        "axis": {"orient": "right", "values": [2], "domain": false, "tickSize": -7, "tickWidth": 3, "labels": false, "title": null}},
  "detail": {"field": "s"}}},
{"data": {"name": "cpts"},
 "mark": {"type": "square", "size": 85, "color": "#222", "opacity": 1},
 "encoding": {"x": {"field": "x", "type": "quantitative"}, "y": {"field": "y", "type": "quantitative"}}},
{"data": {"name": "cfit"}, "transform": [{"filter": "datum.s === 'fit'"}],
 "mark": {"type": "line", "color": "#e5222b", "strokeWidth": 1.3, "interpolate": "monotone"},
 "encoding": {"x": {"field": "x", "type": "quantitative"}, "y": {"field": "y", "type": "quantitative"}}},
{"data": {"name": "arr"}, "transform": [{"filter": "datum.p === 'c'"}],
 "mark": {"type": "rule", "color": "#222", "strokeWidth": 2},
 "encoding": {"x": {"field": "x", "type": "quantitative"}, "y": {"field": "y", "type": "quantitative"}, "y2": {"field": "y2"}}},
{"data": {"name": "arr"}, "transform": [{"filter": "datum.p === 'c'"}],
 "mark": {"type": "point", "shape": "triangle-down", "filled": true, "size": 22, "color": "#222", "opacity": 1},
 "encoding": {"x": {"field": "x", "type": "quantitative"}, "y": {"field": "y2", "type": "quantitative"}}},
{"data": {"name": "lab"}, "transform": [{"filter": "datum.p === 'c'"}],
 "mark": {"type": "text", "font": "DejaVu Sans", "fontSize": 24, "color": "#222", "align": "center", "baseline": "middle"},
 "encoding": {"x": {"field": "x", "type": "quantitative"}, "y": {"field": "y", "type": "quantitative"}, "text": {"field": "t"}}},
{"data": {"name": "ital"}, "transform": [{"filter": "datum.p === 'c'"}],
 "mark": {"type": "text", "font": "DejaVu Sans", "fontStyle": "italic", "fontSize": 24, "color": "#222", "align": "center", "baseline": "middle"},
 "encoding": {"x": {"field": "x", "type": "quantitative"}, "y": {"field": "y", "type": "quantitative"}, "text": {"field": "t"}}}
]
},
{
"width": 275, "height": 364,
"view": {"stroke": "#222", "strokeWidth": 5},
"layer": [
{"data": {"name": "pb"}, "transform": [{"filter": "datum.s === '2 ML'"}],
 "mark": {"type": "line", "color": "#222", "strokeWidth": 1.2},
 "encoding": {
  "x": {"field": "x", "type": "quantitative", "scale": {"domain": [5, 44.9], "nice": false, "zero": false},
        "axis": {"values": [10, 20, 30, 40], "domain": false, "tickSize": -10, "tickWidth": 4, "labelPadding": 14, "title": "Electron energy, eV", "titleX": 273, "titleY": 60, "titleBaseline": "alphabetic", "titleAlign": "center"}},
  "y": {"field": "y", "type": "quantitative", "scale": {"domain": [-0.16, 11.22], "nice": false, "zero": false},
        "axis": {"values": [0, 4, 8], "format": "d", "domain": false, "tickSize": -12, "tickWidth": 4, "labelPadding": 17, "title": null}}}},
{"data": {"name": "pb"}, "transform": [{"filter": "datum.s === '5 ML'"}],
 "mark": {"type": "line", "color": "#222", "strokeWidth": 3, "strokeDash": [2.5, 3.5]},
 "encoding": {"x": {"field": "x", "type": "quantitative"}, "y": {"field": "y", "type": "quantitative"}}},
{"data": {"name": "pb"}, "transform": [{"filter": "datum.s === '10 ML'"}],
 "mark": {"type": "line", "color": "#333", "strokeWidth": 1.6, "strokeDash": [1.5, 2]},
 "encoding": {"x": {"field": "x", "type": "quantitative"}, "y": {"field": "y", "type": "quantitative"}}},
{"data": {"name": "arr"}, "transform": [{"filter": "datum.p === 'b'"}],
 "mark": {"type": "rule", "color": "#222", "strokeWidth": 1.5},
 "encoding": {"x": {"field": "x", "type": "quantitative"}, "y": {"field": "y", "type": "quantitative"}, "y2": {"field": "y2"}}},
{"data": {"name": "arr"}, "transform": [{"filter": "datum.p === 'b'"}],
 "mark": {"type": "point", "shape": "triangle-down", "filled": true, "size": 24, "color": "#222", "opacity": 1},
 "encoding": {"x": {"field": "x", "type": "quantitative"}, "y": {"field": "y2", "type": "quantitative"}}},
{"data": {"name": "lab"}, "transform": [{"filter": "datum.p === 'b'"}],
 "mark": {"type": "text", "font": "DejaVu Sans", "fontSize": 24, "color": "#222", "align": "center", "baseline": "middle"},
 "encoding": {"x": {"field": "x", "type": "quantitative"}, "y": {"field": "y", "type": "quantitative"}, "text": {"field": "t"}}},
{"data": {"name": "ital"}, "transform": [{"filter": "datum.p === 'b'"}],
 "mark": {"type": "text", "font": "Liberation Serif", "fontStyle": "italic", "fontSize": 26, "color": "#222", "align": "center", "baseline": "middle"},
 "encoding": {"x": {"field": "x", "type": "quantitative"}, "y": {"field": "y", "type": "quantitative"}, "text": {"field": "t"}}}
]
},
{
"width": 269, "height": 364,
"layer": [
{"data": {"name": "dfit"}, "transform": [{"filter": "datum.s !== 'fit'"}],
 "mark": {"type": "line", "color": "#222", "strokeWidth": 1, "interpolate": "monotone"},
 "encoding": {
  "x": {"field": "x", "type": "quantitative", "scale": {"domain": [2.14, 26.96], "nice": false, "zero": false},
        "axis": {"values": [5, 10, 15, 20, 25], "domain": true, "domainWidth": 4, "tickSize": -10, "tickWidth": 3.5, "labelPadding": 14, "title": null}},
  "y": {"field": "y", "type": "quantitative", "scale": {"domain": [-0.078, 2.5], "nice": false, "zero": false},
        "axis": {"orient": "right", "values": [0, 1, 2], "domain": false, "tickSize": -7, "tickWidth": 3, "labels": false, "title": null}},
  "detail": {"field": "s"}}},
{"data": {"name": "dpts"},
 "mark": {"type": "square", "size": 85, "color": "#222", "opacity": 1},
 "encoding": {"x": {"field": "x", "type": "quantitative"}, "y": {"field": "y", "type": "quantitative"}}},
{"data": {"name": "dfit"}, "transform": [{"filter": "datum.s === 'fit'"}],
 "mark": {"type": "line", "color": "#e5222b", "strokeWidth": 1.3, "interpolate": "monotone"},
 "encoding": {"x": {"field": "x", "type": "quantitative"}, "y": {"field": "y", "type": "quantitative"}}},
{"data": {"name": "arr"}, "transform": [{"filter": "datum.p === 'd'"}],
 "mark": {"type": "rule", "color": "#222", "strokeWidth": 2},
 "encoding": {"x": {"field": "x", "type": "quantitative"}, "y": {"field": "y", "type": "quantitative"}, "y2": {"field": "y2"}}},
{"data": {"name": "arr"}, "transform": [{"filter": "datum.p === 'd'"}],
 "mark": {"type": "point", "shape": "triangle-down", "filled": true, "size": 22, "color": "#222", "opacity": 1},
 "encoding": {"x": {"field": "x", "type": "quantitative"}, "y": {"field": "y2", "type": "quantitative"}}},
{"data": {"values": [{"v": 2.5}]},
 "mark": {"type": "rule", "color": "#222", "strokeWidth": 4},
 "encoding": {"y": {"field": "v", "type": "quantitative"}}},
{"data": {"name": "lab"}, "transform": [{"filter": "datum.p === 'd'"}],
 "mark": {"type": "text", "font": "DejaVu Sans", "fontSize": 24, "color": "#222", "align": "center", "baseline": "middle"},
 "encoding": {"x": {"field": "x", "type": "quantitative"}, "y": {"field": "y", "type": "quantitative"}, "text": {"field": "t"}}},
{"data": {"name": "ital"}, "transform": [{"filter": "datum.p === 'd'"}],
 "mark": {"type": "text", "font": "Liberation Serif", "fontStyle": "italic", "fontSize": 26, "color": "#222", "align": "center", "baseline": "middle"},
 "encoding": {"x": {"field": "x", "type": "quantitative"}, "y": {"field": "y", "type": "quantitative"}, "text": {"field": "t"}}}
]
}
]
}
